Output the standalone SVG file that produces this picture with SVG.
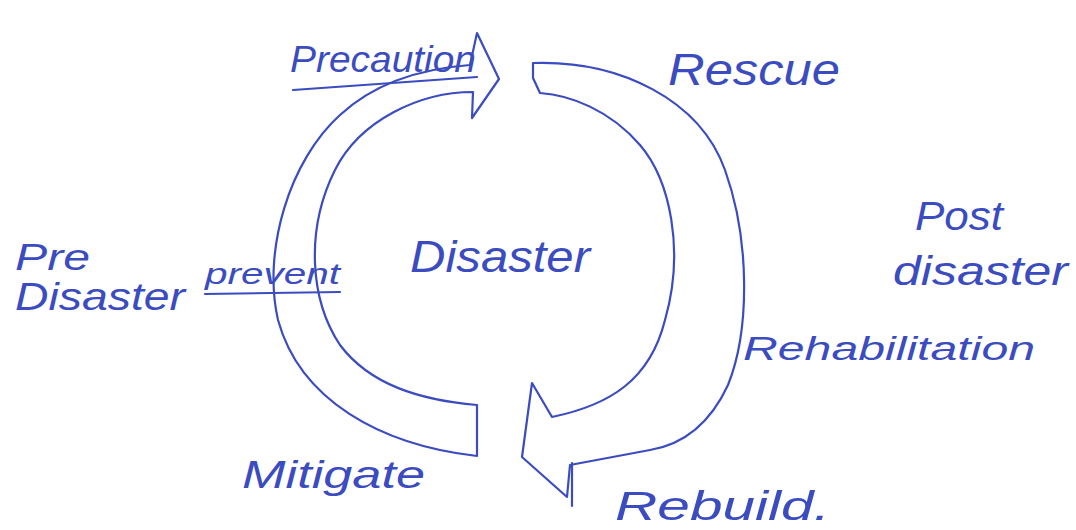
<svg xmlns="http://www.w3.org/2000/svg" width="1076" height="530" viewBox="0 0 1076 530">
<style>
.ln{fill:none;stroke:#3b4cc0;stroke-width:2.2;stroke-linejoin:round;stroke-linecap:round}
.t{font-family:"Liberation Sans",Arial,sans-serif;fill:#3b4cc0;font-style:italic}
</style>
<rect width="1076" height="530" fill="#ffffff"/>
<g id="connectors">
<path id="arrow-pre" class="ln" d="M477 405 L477 456 C380 445,300 400,278 320 C262 250,290 160,340 115 C380 78,430 68,470 65 L477 33 L499 79 L472 118 L473 92 C420 92,360 120,335 170 C305 230,310 300,340 345 C370 385,420 400,477 405 Z"/>
<path id="arrow-post" class="ln" d="M533 63 C620 60,700 100,725 170 C750 240,750 330,728 385 C708 428,680 445,650 450 L570 465 L567 497 L522 457 L532 383 L552 417 C610 405,650 380,665 320 C685 250,670 180,640 145 C610 110,570 95,540 93 L533 78 Z"/>
<line class="ln" x1="572" y1="463" x2="572" y2="506"/>
</g>
<g id="precaution">
<text class="t" x="290" y="72" font-size="36" textLength="186" lengthAdjust="spacingAndGlyphs">Precaution</text>
<line class="ln" x1="293" y1="90" x2="477" y2="77"/>
</g>
<g id="rescue"><text class="t" x="668" y="85" font-size="44" textLength="172" lengthAdjust="spacingAndGlyphs">Rescue</text></g>
<g id="disaster"><text class="t" x="410" y="272" font-size="44" textLength="180" lengthAdjust="spacingAndGlyphs">Disaster</text></g>
<g id="pre-disaster">
<text class="t" x="15" y="270" font-size="36" textLength="75" lengthAdjust="spacingAndGlyphs">Pre</text>
<text class="t" x="15" y="310" font-size="38" textLength="170" lengthAdjust="spacingAndGlyphs">Disaster</text>
</g>
<g id="prevent">
<text class="t" x="205" y="284" font-size="30" textLength="135" lengthAdjust="spacingAndGlyphs">prevent</text>
<line class="ln" x1="205" y1="294" x2="340" y2="292"/>
</g>
<g id="post-disaster">
<text class="t" x="915" y="230" font-size="40" textLength="88" lengthAdjust="spacingAndGlyphs">Post</text>
<text class="t" x="893" y="285" font-size="40" textLength="175" lengthAdjust="spacingAndGlyphs">disaster</text>
</g>
<g id="rehabilitation"><text class="t" x="743" y="360" font-size="34" textLength="292" lengthAdjust="spacingAndGlyphs">Rehabilitation</text></g>
<g id="mitigate"><text class="t" x="242" y="488" font-size="38" textLength="183" lengthAdjust="spacingAndGlyphs">Mitigate</text></g>
<g id="rebuild"><text class="t" x="615" y="520" font-size="40" textLength="215" lengthAdjust="spacingAndGlyphs">Rebuild.</text></g>
</svg>
